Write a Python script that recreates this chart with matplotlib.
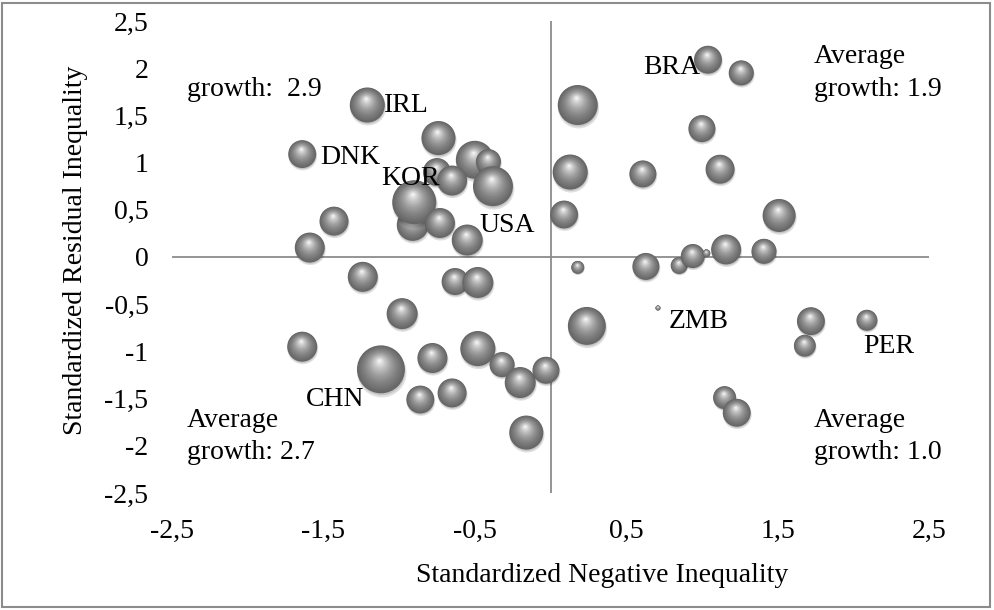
import numpy as np
import matplotlib
matplotlib.use('Agg')
from matplotlib import pyplot as plt
from matplotlib.patches import Rectangle

plt.rcParams['font.family'] = ['Liberation Serif', 'DejaVu Serif']

########
# DATA #
########

# standardized negative inequality (x), residual inequality (y), bubble size
neg_ineq = [-1.21, -1.64, -0.74, -0.50, -0.41, -0.38, -0.75, -0.65, -0.91, -0.90,
            -0.73, -0.55, -1.43, -1.59, -1.24, -0.63, -0.48, -0.98, -1.64, -1.12,
            -0.78, -0.48, -0.32, -0.20, -0.03, -0.86, -0.65, -0.16, 0.18, 1.04,
            1.26, 1.00, 0.13, 0.61, 1.12, 0.09, 1.51, 0.18, 0.63, 0.85,
            0.94, 1.03, 1.16, 1.41, 0.24, 0.71, 1.72, 1.68, 2.09, 1.15, 1.23]
res_ineq = [1.61, 1.09, 1.26, 1.03, 1.01, 0.75, 0.90, 0.81, 0.34, 0.58,
            0.36, 0.18, 0.38, 0.10, -0.21, -0.26, -0.27, -0.60, -0.95, -1.19,
            -1.07, -0.97, -1.14, -1.33, -1.20, -1.51, -1.44, -1.86, 1.61, 2.09,
            1.95, 1.36, 0.90, 0.88, 0.93, 0.45, 0.44, -0.11, -0.10, -0.09,
            0.01, 0.04, 0.08, 0.06, -0.73, -0.54, -0.68, -0.94, -0.67, -1.49, -1.65]
bubble = [12.3, 7.8, 11.6, 14.4, 6.3, 16.0, 7.8, 9.0, 10.2, 19.4,
          9.0, 9.6, 8.4, 9.0, 9.0, 7.3, 9.6, 9.6, 9.0, 23.0,
          9.0, 12.3, 6.3, 9.6, 7.3, 7.8, 8.4, 11.6, 16.0, 7.8,
          6.3, 7.3, 12.3, 7.3, 8.4, 7.8, 10.9, 1.7, 7.3, 2.9,
          5.8, 0.6, 9.0, 6.3, 14.4, 0.25, 7.8, 4.8, 4.4, 5.3, 7.8]
country = ['IRL', 'DNK', '', '', '', '', '', '', '', 'KOR',
           '', 'USA', '', '', '', '', '', '', '', 'CHN',
           '', '', '', '', '', '', '', '', '', 'BRA',
           '', '', '', '', '', '', '', '', '', '',
           '', '', '', '', '', 'ZMB', '', '', 'PER', '', '']

xticklabels = ['-2,5', '-1,5', '-0,5', '0,5', '1,5', '2,5']
yticklabels = ['-2,5', '-2', '-1,5', '-1', '-0,5', '0', '0,5', '1', '1,5', '2', '2,5']

quadrant_text = ['growth:  2.9', 'Average\ngrowth: 1.9',
                 'Average\ngrowth: 2.7', 'Average\ngrowth: 1.0']

# label placement (pixels from bubble centre, y down) and alignment
label_pos = {'IRL': (17, 0, 'left'), 'DNK': (18, 3, 'left'),
             'KOR': (-4, -24, 'center'), 'USA': (12, -15, 'left'),
             'BRA': (-8, 8, 'right'), 'ZMB': (11, 14, 'left'),
             'PER': (-4, 26, 'left'), 'CHN': (-17, 30, 'right')}

FS = 20

########
# PLOT #
########

W, H = 994, 610
fig = plt.figure(figsize=(W/100., H/100.), dpi=100)
ax = fig.add_axes([172./W, 1-493./H, 757./W, 472./H])
ax.set_xlim(-2.5, 2.5)
ax.set_ylim(-2.5, 2.5)
for s in ax.spines.values():
    s.set_visible(False)
ax.patch.set_alpha(0)

ax.axhline(0, color='#8c8c8c', lw=1.3, zorder=1)
ax.axvline(0, color='#8c8c8c', lw=1.3, zorder=1)

ax.set_xticks(np.arange(-2.5, 2.51, 1.0))
ax.set_xticklabels(xticklabels)
ax.set_yticks(np.arange(-2.5, 2.51, 0.5))
ax.set_yticklabels(yticklabels)
ax.tick_params(length=0, labelsize=FS)
ax.tick_params(axis='x', pad=19)
ax.tick_params(axis='y', pad=17)

# pixels per data unit
p0 = ax.transData.transform((0, 0))
p1 = ax.transData.transform((1, 1))
sx, sy = p1[0]-p0[0], p1[1]-p0[1]
pt = 72./fig.dpi

# shaded spheres, one scatter per bubble so overlaps stack correctly
N = 20
t = np.linspace(0, 1, N)
grey = 0.40 + 0.32*t + 0.26*t**2.5
hx, hy = -0.06, 0.36   # highlight position (fraction of radius)
for i in range(len(bubble)):
    R = 5.*np.sqrt(bubble[i])   # radius in pixels
    x, y = neg_ineq[i], res_ineq[i]
    z = 3 + i*0.01
    # soft shadow
    ax.scatter([x + 0.04*R/sx, x + 0.03*R/sx], [y - 0.14*R/sy, y - 0.10*R/sy],
               s=[(2*1.03*R*pt)**2, (2*0.98*R*pt)**2],
               c='k', alpha=0.12, lw=0, zorder=z)
    xs = x + t*hx*R/sx
    ys = y + t*hy*R/sy
    rad = R*(1 - 0.97*t)
    cols = [(g, g, g) for g in grey]
    ax.scatter(xs, ys, s=(2*rad*pt)**2, c=cols, lw=0, zorder=z+0.001)
    if country[i] in label_pos:
        dx, dy, ha = label_pos[country[i]]
        ax.annotate(country[i], (x, y), xytext=(dx*pt, -dy*pt),
                    textcoords='offset points', ha=ha, va='center',
                    fontsize=FS, zorder=10)

ax.text(-2.40, 1.77, quadrant_text[0], fontsize=FS, va='center', ha='left')
ax.text(1.74, 1.95, quadrant_text[1], fontsize=FS, va='center', ha='left',
        linespacing=1.4)
ax.text(-2.40, -1.90, quadrant_text[2], fontsize=FS, va='center', ha='left',
        linespacing=1.4)
ax.text(1.74, -1.90, quadrant_text[3], fontsize=FS, va='center', ha='left',
        linespacing=1.4)

fig.text(602./W, 1-575./H, 'Standardized Negative Inequality', fontsize=FS,
         ha='center', va='center')
fig.text(76./W, 1-250./H, 'Standardized Residual Inequality', fontsize=FS,
         ha='center', va='center', rotation=90)

fig.patches.append(Rectangle((2./W, 3./H), 988./W, 604./H, fill=False,
                             edgecolor='#8c8c8c', lw=1.5,
                             transform=fig.transFigure, figure=fig))

plt.savefig('out.png', dpi=100)
plt.close()
